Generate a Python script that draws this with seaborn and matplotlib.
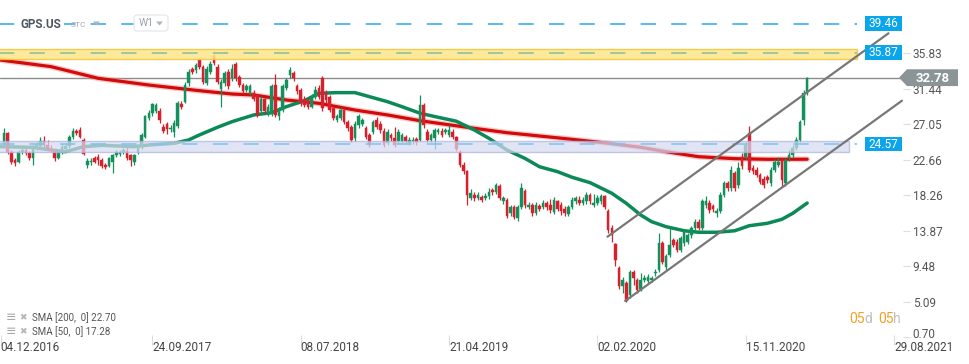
import seaborn as sns
import matplotlib.pyplot as plt
import matplotlib.patches as mpatches
import matplotlib.transforms as mtransforms
import numpy as np
import pandas as pd

# tygodniowe swiece GPS.US, tydzien 0 = 04.12.2016
opens = [24.7, 25.9, 23.6, 22.6, 22.4, 23.6, 23.9, 23.5, 22.8, 24.2,
         24.3, 24.9, 24.4, 24.1, 23.9, 22.9, 23.6, 24.0, 24.3, 25.5,
         26.2, 26.3, 25.1, 22.0, 22.3, 22.8, 23.0, 22.6, 22.0, 21.9,
         22.4, 23.2, 23.4, 23.6, 23.7, 23.2, 22.4, 23.6, 24.2, 25.5,
         27.8, 28.4, 28.7, 28.7, 26.7, 27.1, 26.4, 26.1, 26.8, 29.5,
         29.8, 32.1, 33.8, 33.7, 35.0, 34.1, 32.1, 33.5, 35.5, 34.1,
         31.4, 32.1, 33.5, 32.7, 34.5, 32.9, 31.9, 31.3, 30.9, 30.9,
         30.6, 28.6, 30.2, 28.4, 28.4, 31.9, 28.0, 28.8, 31.5, 33.1,
         33.3, 31.7, 31.3, 30.2, 30.0, 29.2, 30.4, 31.5, 32.7, 30.9,
         30.4, 29.0, 27.6, 27.8, 28.8, 27.3, 26.7, 25.3, 26.9, 27.1,
         26.5, 25.7, 26.1, 27.6, 27.1, 26.2, 24.7, 25.7, 25.3, 24.9,
         24.9, 25.4, 24.7, 24.9, 25.2, 25.1, 29.4, 26.1, 25.1, 25.3,
         26.1, 26.2, 26.1, 25.7, 26.1, 25.4, 23.6, 22.0, 21.2, 17.9,
         18.3, 17.9, 18.0, 17.9, 18.1, 18.9, 18.7, 19.4, 17.5, 17.7,
         16.0, 16.8, 15.4, 16.8, 18.8, 16.8, 17.1, 16.0, 16.9, 16.8,
         17.3, 17.0, 16.2, 17.5, 17.1, 16.6, 15.9, 16.8, 17.5, 17.7,
         17.3, 17.5, 18.3, 17.0, 17.3, 17.5, 18.1, 16.3, 14.2, 12.2,
         9.2, 7.0, 7.4, 5.9, 8.8, 7.8, 6.7, 7.8, 7.6, 7.8,
         8.6, 9.0, 12.4, 9.4, 10.9, 12.7, 12.5, 11.5, 12.3, 12.5,
         13.3, 14.2, 15.0, 14.2, 17.0, 17.3, 16.9, 16.0, 16.3, 18.3,
         19.7, 19.1, 21.0, 19.5, 23.0, 23.0, 25.9, 21.6, 21.4, 20.8,
         20.3, 20.5, 19.7, 21.4, 22.0, 22.6, 19.7, 22.8, 23.2, 24.1,
         25.1, 27.5, 30.9]
closes = [25.9, 23.6, 22.3, 22.2, 23.6, 23.9, 23.5, 22.8, 24.2, 24.4,
          24.9, 24.4, 24.0, 23.9, 22.8, 23.6, 24.2, 24.3, 25.5, 26.2,
          26.0, 25.5, 23.4, 22.5, 22.5, 22.4, 22.6, 21.8, 21.7, 22.8,
          23.2, 23.6, 23.6, 23.8, 22.8, 22.6, 23.2, 24.3, 25.7, 28.0,
          28.4, 29.5, 29.4, 27.5, 26.2, 26.4, 26.6, 27.2, 29.7, 29.2,
          31.9, 33.5, 33.5, 34.3, 34.1, 32.3, 33.9, 34.5, 34.6, 32.3,
          32.2, 33.3, 31.7, 33.9, 32.7, 31.9, 31.1, 31.7, 31.7, 30.2,
          28.2, 30.2, 28.6, 29.2, 31.7, 28.2, 28.8, 31.7, 32.5, 33.7,
          32.7, 31.1, 29.6, 29.4, 29.2, 30.4, 31.3, 30.4, 29.0, 30.0,
          28.8, 27.8, 28.0, 28.8, 27.3, 26.5, 25.1, 27.1, 28.0, 27.5,
          25.5, 24.5, 27.3, 26.7, 26.3, 24.5, 26.1, 25.3, 24.5, 26.1,
          25.7, 24.9, 25.1, 25.1, 24.8, 29.4, 26.9, 25.1, 25.7, 26.3,
          26.3, 25.7, 26.3, 26.3, 25.5, 24.0, 22.0, 21.2, 18.3, 18.5,
          17.9, 18.3, 17.7, 18.2, 18.7, 18.6, 19.5, 17.9, 17.9, 15.7,
          16.8, 15.6, 16.8, 19.2, 17.0, 17.1, 16.0, 17.1, 16.6, 17.3,
          16.8, 16.4, 17.7, 16.6, 16.3, 16.0, 16.8, 17.7, 17.9, 17.3,
          17.7, 18.3, 17.5, 17.3, 17.9, 18.1, 16.8, 13.9, 13.3, 10.2,
          7.0, 7.8, 5.2, 8.8, 8.0, 6.5, 7.8, 8.0, 8.2, 8.0,
          8.8, 12.3, 10.0, 10.7, 12.1, 12.1, 11.5, 12.9, 13.8, 13.3,
          14.2, 15.0, 14.2, 17.5, 17.5, 16.4, 16.5, 16.3, 18.3, 19.7,
          19.1, 21.4, 19.1, 21.6, 21.8, 24.5, 21.4, 21.2, 20.8, 19.9,
          19.5, 20.1, 21.4, 22.4, 22.4, 20.1, 22.6, 23.2, 24.1, 25.1,
          27.3, 30.9, 32.78]
highs = [26.5, 26.1, 23.8, 22.9, 23.8, 24.4, 24.1, 23.7, 24.4, 24.8,
         25.4, 25.6, 25.1, 24.4, 24.0, 23.9, 24.6, 24.7, 25.7, 26.6,
         26.4, 26.7, 25.3, 22.9, 22.8, 23.1, 23.3, 22.8, 22.2, 23.0,
         23.4, 23.9, 23.9, 24.1, 24.2, 23.4, 23.4, 24.6, 25.9, 28.2,
         28.8, 29.7, 29.6, 29.0, 27.0, 27.3, 26.9, 27.5, 29.9, 29.9,
         32.3, 33.8, 34.1, 34.6, 35.2, 34.3, 34.2, 34.9, 35.7, 34.5,
         32.6, 33.6, 33.9, 34.5, 34.7, 33.1, 32.1, 32.0, 32.0, 31.2,
         30.8, 30.5, 30.4, 29.5, 32.0, 33.2, 29.1, 32.0, 32.8, 34.1,
         33.6, 32.0, 31.5, 30.5, 30.3, 30.7, 31.8, 31.9, 33.0, 31.2,
         30.6, 29.2, 28.3, 29.1, 29.0, 27.5, 26.9, 27.4, 28.3, 27.8,
         26.8, 26.0, 27.6, 27.9, 27.4, 26.5, 26.4, 26.0, 26.7, 26.4,
         26.0, 25.7, 25.4, 25.4, 25.5, 30.6, 29.7, 26.4, 26.0, 26.6,
         26.6, 26.5, 26.6, 26.9, 26.4, 25.6, 23.8, 22.3, 21.4, 19.0,
         18.6, 18.6, 18.3, 18.5, 19.2, 19.1, 19.7, 19.6, 18.2, 17.9,
         17.1, 17.0, 17.0, 19.7, 19.0, 17.4, 17.3, 17.4, 17.2, 17.6,
         17.5, 17.8, 18.0, 17.7, 17.4, 16.9, 17.1, 18.0, 18.1, 18.1,
         18.0, 18.6, 18.5, 18.4, 18.3, 18.4, 18.3, 16.5, 14.6, 12.4,
         9.5, 8.1, 7.6, 9.0, 9.0, 8.0, 8.6, 8.4, 8.5, 8.3,
         9.1, 13.6, 12.6, 11.0, 14.2, 13.0, 12.8, 13.2, 14.1, 13.6,
         14.5, 15.3, 15.3, 17.8, 18.1, 17.6, 17.2, 16.7, 18.6, 20.0,
         20.0, 21.8, 21.2, 22.3, 23.5, 24.8, 26.8, 22.0, 21.7, 21.0,
         20.6, 20.8, 21.7, 22.7, 23.0, 22.9, 22.9, 23.9, 24.4, 25.4,
         27.6, 31.2, 32.9]
lows = [24.4, 23.4, 22.1, 21.9, 22.2, 23.3, 23.2, 22.6, 22.0, 23.9,
        24.0, 24.2, 23.8, 23.6, 22.5, 22.7, 23.3, 23.8, 24.1, 25.2,
        25.7, 25.3, 23.2, 21.6, 22.0, 22.2, 22.0, 21.6, 21.5, 21.7,
        21.0, 23.0, 23.1, 23.3, 22.6, 21.9, 22.0, 23.4, 24.0, 25.3,
        27.5, 28.1, 28.4, 27.2, 25.9, 25.8, 26.1, 25.4, 26.5, 28.9,
        29.6, 31.8, 33.2, 33.4, 33.9, 32.0, 31.9, 33.2, 34.3, 32.0,
        29.2, 31.8, 31.4, 32.4, 32.4, 31.6, 30.8, 31.0, 30.6, 29.9,
        27.9, 28.3, 28.3, 28.1, 28.1, 27.9, 27.5, 28.5, 31.2, 32.8,
        32.4, 30.8, 29.3, 29.1, 28.9, 29.0, 30.1, 30.1, 28.7, 29.7,
        28.5, 27.5, 27.3, 27.5, 27.0, 26.2, 24.8, 25.0, 26.6, 26.8,
        25.2, 24.2, 25.8, 26.4, 26.0, 24.2, 24.4, 25.0, 24.2, 24.6,
        24.6, 24.6, 24.4, 24.6, 24.4, 24.9, 26.6, 24.8, 24.8, 24.0,
        25.8, 25.4, 25.8, 25.4, 25.2, 23.7, 21.7, 20.9, 17.0, 17.6,
        17.5, 17.6, 17.4, 17.6, 17.8, 18.3, 18.4, 17.6, 17.2, 15.4,
        15.7, 15.3, 15.1, 16.5, 16.7, 16.5, 15.7, 15.8, 16.3, 16.5,
        16.4, 16.1, 15.9, 16.3, 15.8, 15.7, 15.7, 16.5, 17.2, 17.0,
        17.0, 17.2, 17.2, 16.8, 17.0, 17.2, 16.5, 13.6, 12.5, 9.5,
        6.7, 6.2, 5.0, 5.6, 7.1, 6.2, 6.4, 7.5, 7.3, 7.5,
        8.3, 8.8, 9.7, 9.0, 10.6, 11.8, 11.2, 11.2, 12.0, 12.2,
        13.0, 13.9, 13.9, 13.9, 16.7, 16.1, 16.2, 15.6, 16.0, 18.0,
        18.8, 18.8, 18.8, 19.2, 21.5, 22.7, 21.1, 20.9, 20.5, 19.6,
        19.2, 19.8, 19.4, 21.1, 21.7, 19.3, 19.4, 22.5, 22.9, 23.8,
        24.8, 26.9, 30.6]
weeks = np.arange(1, len(closes) + 1)

# srednie kroczace (tydzien, wartosc)
sma200_weeks = [0, 14, 27, 41, 55, 64, 70, 79, 88, 98, 107, 116, 131, 140,
                149, 158, 168, 177, 184, 193, 203, 212, 223]
sma200_vals = [34.96, 34.14, 32.70, 31.87, 31.17, 30.76, 30.64, 30.02, 29.61,
               28.78, 28.17, 27.46, 26.52, 25.98, 25.57, 25.16, 24.67, 24.17,
               23.63, 23.01, 22.77, 22.69, 22.70]
sma50_weeks = [0, 9, 14, 18, 23, 28, 37, 41, 48, 52, 55, 60, 64, 70, 75, 79,
               84, 88, 93, 98, 102, 107, 111, 116, 121, 126, 131, 135, 140,
               145, 149, 154, 158, 163, 169, 173, 177, 180, 184, 189, 193,
               198, 203, 207, 212, 216, 219, 223]
sma50_vals = [24.25, 24.17, 23.84, 23.63, 24.25, 24.42, 24.25, 24.46, 24.67,
              25.08, 25.70, 26.65, 27.34, 28.17, 28.45, 29.19, 29.93, 30.85,
              30.93, 30.93, 30.43, 29.81, 29.19, 28.38, 27.88, 27.40, 26.31,
              25.29, 23.84, 22.80, 21.77, 21.16, 20.47, 19.80, 18.49, 17.25,
              15.80, 14.98, 14.36, 13.86, 13.67, 13.67, 13.86, 14.48, 14.78,
              15.27, 16.01, 17.28]

# kanal wzrostowy
upper_x, upper_y = [167.8, 245.5], [13.12, 38.27]
lower_x, lower_y = [172.7, 249.2], [5.18, 29.93]

# poziomy
lvl_top = 39.46
lvl_res = 35.87
lvl_sup = 24.57
last_price = 32.78
res_zone = (35.05, 36.29)
sup_zone = (23.63, 25.00)

yticks = [0.70, 5.09, 9.48, 13.87, 18.26, 22.66, 27.05, 31.44, 35.83]
xtick_weeks = [0, 42, 83, 124, 165, 206, 247]
xtick_labels = ['04.12.2016', '24.09.2017', '08.07.2018', '21.04.2019',
                '02.02.2020', '15.11.2020', '29.08.2021']

W, H = 970, 364
GREEN, RED = '#13905c', '#d6202c'

sns.set_style('white')
plt.rcParams['font.family'] = ['Roboto', 'DejaVu Sans']

fig = plt.figure(figsize=(W / 100, H / 100), dpi=100)
ax = fig.add_axes([0, (H - 340) / H, 903 / W, 340 / H])
ax.set_xlim(-0.14, 249.5)
ax.set_ylim(0.354, 42.38)
for s in ax.spines.values():
    s.set_visible(False)

# linia ostatniej ceny
ax.axhline(last_price, color='#8c8c8c', lw=1, zorder=1)

# srednie
sns.lineplot(x=sma200_weeks, y=sma200_vals, ax=ax, color='#f08a8a', lw=4.2,
             alpha=0.45, sort=False, estimator=None, zorder=2)
sns.lineplot(x=sma200_weeks, y=sma200_vals, ax=ax, color='#d30a0a', lw=2.3,
             sort=False, estimator=None, zorder=3)
sns.lineplot(x=sma50_weeks, y=sma50_vals, ax=ax, color='#0b8a57', lw=2.5,
             sort=False, estimator=None, zorder=3)

# swiece
df = pd.DataFrame({'week': weeks, 'open': opens, 'close': closes,
                   'high': highs, 'low': lows})
df['up'] = df['close'] >= df['open']
for up, color in [(True, GREEN), (False, RED)]:
    d = df[df['up'] == up]
    ax.vlines(d['week'], d['low'], d['high'], color=color, lw=0.9, zorder=4)
    body = np.maximum((d['close'] - d['open']).abs(), 0.1)
    ax.bar(d['week'], body, bottom=d[['open', 'close']].min(axis=1),
           width=0.72, color=color, edgecolor=color, lw=0.3, zorder=4)

# strefy
right_w = 236.7
ax.add_patch(mpatches.Rectangle((-1, res_zone[0]), right_w + 1, res_zone[1] - res_zone[0],
                                facecolor='#fde68a', edgecolor='#f4c430', lw=1,
                                alpha=0.85, zorder=5))
ax.add_patch(mpatches.Rectangle((-1, sup_zone[0]), 234.6 + 1, sup_zone[1] - sup_zone[0],
                                facecolor='#d6daf1', edgecolor='#aeb4dc', lw=1,
                                alpha=0.72, zorder=5))
ax.plot([-1, right_w], [lvl_top, lvl_top], color='#2aa8ea', lw=1.1,
        dashes=(10, 10), zorder=5)
ax.plot([-1, right_w], [lvl_res, lvl_res], color='#86bf9c', lw=1.1,
        dashes=(10, 10), zorder=6)
ax.plot([-1, right_w], [lvl_sup, lvl_sup], color='#7cc3ef', lw=1.1,
        dashes=(10, 10), zorder=6)

# kanal
sns.lineplot(x=upper_x, y=upper_y, ax=ax, color='#777777', lw=1.6, zorder=7)
sns.lineplot(x=lower_x, y=lower_y, ax=ax, color='#777777', lw=1.6, zorder=7)

# osie
ax.yaxis.tick_right()
ax.set_yticks(yticks)
ax.set_yticklabels([f'{v:.2f}' for v in yticks])
ax.tick_params(axis='y', length=5, width=0.8, color='#dddddd', pad=2,
               labelsize=8.5, labelcolor='#555555', right=True, left=False)
# najnizsza etykieta lekko podniesiona, jak w oryginale
low_lab = ax.get_yticklabels()[0]
low_lab.set_transform(low_lab.get_transform() +
                      mtransforms.ScaledTranslation(0, 4 / 100, fig.dpi_scale_trans))
ax.set_xticks(xtick_weeks)
ax.set_xticklabels(xtick_labels, ha='left')
ax.tick_params(axis='x', direction='inout', length=7, width=0.8,
               color='#dddddd', pad=-3, labelsize=8.5, labelcolor='#444444',
               bottom=True)
ax.set_xlabel('')
ax.set_ylabel('')
ax.grid(False)

# nakladka w pikselach
ov = fig.add_axes([0, 0, 1, 1], facecolor='none')
ov.set_xlim(0, W)
ov.set_ylim(H, 0)
ov.axis('off')


def ypx(p):
    return H - ax.transData.transform((0, p))[1]


for lvl in [lvl_top, lvl_res, lvl_sup]:
    y = ypx(lvl)
    ov.add_patch(mpatches.Rectangle((865, y - 7.3), 37, 14.6, facecolor='#0ba5ec',
                                    edgecolor='none', zorder=10))
    ov.text(883.5, y + 0.3, f'{lvl:.2f}', color='white', fontsize=8.5,
            ha='center', va='center', zorder=11)

y = ypx(last_price)
ov.add_patch(mpatches.Polygon([(899, y), (907, y - 8.4), (958, y - 8.4),
                               (958, y + 8.4), (907, y + 8.4)],
                              closed=True, facecolor='#8b9598',
                              edgecolor='none', zorder=10))
ov.text(932.5, y + 0.5, f'{last_price:.2f}', color='white', fontsize=9.5,
        fontweight='bold', ha='center', va='center', zorder=11)

# naglowek
ov.text(21, 24, 'GPS.US', fontsize=8.5, fontweight='bold', color='#4b5661',
        va='center', ha='left', zorder=11,
        bbox=dict(boxstyle='square,pad=0.15', fc='white', ec='none'))
ov.text(71, 25, 'STC', fontsize=6, color='#a0a8b0', va='center', ha='left',
        zorder=11)
ov.add_patch(mpatches.Polygon([(93, 21.5), (100, 21.5), (96.5, 25.5)],
                              facecolor='#b0b6bc', edgecolor='none', zorder=11))
ov.add_patch(mpatches.FancyBboxPatch((134, 15), 34, 16,
                                     boxstyle='round,pad=0,rounding_size=3',
                                     facecolor='white', edgecolor='#e2e5e9',
                                     lw=0.8, zorder=10))
ov.text(139, 23.5, 'W1', fontsize=7.5, color='#9aa3ab', va='center',
        ha='left', zorder=11)
ov.add_patch(mpatches.Polygon([(156, 21.5), (163, 21.5), (159.5, 25.5)],
                              facecolor='#b0b6bc', edgecolor='none', zorder=11))

# legenda srednich
for yy, per, val in [(318, 200, sma200_vals[-1]), (331.5, 50, sma50_vals[-1])]:
    ov.text(6, yy, '≡', fontsize=9, color='#a8a8a8', va='center', ha='left')
    ov.text(19, yy, '✖', fontsize=6.5, color='#b5b5b5', va='center', ha='left')
    ov.text(32, yy, f'SMA [{per},  0] {val:.2f}', fontsize=7,
            color='#555555', va='center', ha='left')

# licznik do konca swiecy
for xx, t, c in [(849, '05', '#f5a024'), (864, 'd', '#c0c0c0'),
                 (878, '05', '#f5a024'), (893, 'h', '#c0c0c0')]:
    ov.text(xx, 319, t, fontsize=10, color=c, va='center', ha='left')

fig.savefig('out.png', dpi=100)
